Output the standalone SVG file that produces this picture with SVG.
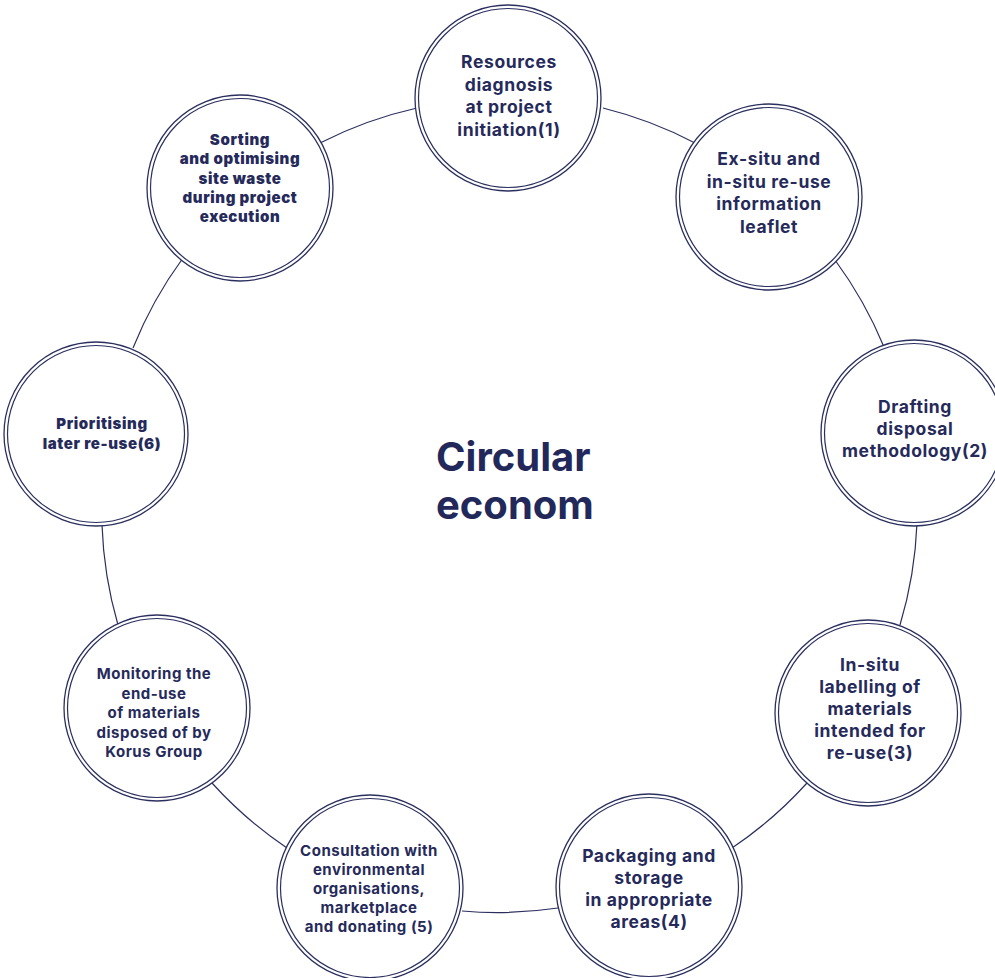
<svg xmlns="http://www.w3.org/2000/svg" width="995" height="978" viewBox="0 0 995 978">
<style>
.bg{fill:#ffffff}
.con{fill:none;stroke:#2b2f5e;stroke-width:1.2}
.outer{fill:#ffffff;stroke:#2b2f5e;stroke-width:1.3}
.inner{fill:none;stroke:#2b2f5e;stroke-width:1.2}
.t{font-family:Inter,"Liberation Sans",sans-serif;font-weight:700;font-size:17.5px;letter-spacing:0.6px;fill:#252a5a;text-anchor:middle}
.s{font-size:15px;letter-spacing:0.5px}
.h{font-weight:900;font-size:15px;letter-spacing:0.6px}
.title{font-family:Inter,"Liberation Sans",sans-serif;font-weight:700;font-size:40px;fill:#23285a}
</style>
<rect class="bg" x="0" y="0" width="995" height="978"/>
<g id="connectors">
<path class="con" d="M603 108 A410 410 0 0 1 695 143"/>
<path class="con" d="M835 260 A410 410 0 0 1 884 347"/>
<path class="con" d="M917 523 A410 410 0 0 1 900 625"/>
<path class="con" d="M807 783 A410 410 0 0 1 732 848"/>
<path class="con" d="M558 908 A410 410 0 0 1 462 911"/>
<path class="con" d="M287 848 A410 410 0 0 1 212 783"/>
<path class="con" d="M118 625 A410 410 0 0 1 102 525"/>
<path class="con" d="M133 348 A410 410 0 0 1 183 258"/>
<path class="con" d="M320 143 A410 410 0 0 1 417 108"/>
</g>
<g id="center-title">
<text class="title" x="436" y="471">Circular</text>
<text class="title" x="436" y="519">econom</text>
</g>
<g id="node1">
<circle class="outer" cx="508" cy="98" r="93"/>
<circle class="inner" cx="508" cy="98" r="89.5"/>
<text class="t" x="509" y="68">Resources</text>
<text class="t" x="509" y="90.5">diagnosis</text>
<text class="t" x="509" y="113">at project</text>
<text class="t" x="509" y="135.5">initiation(1)</text>
</g>
<g id="node2">
<circle class="outer" cx="769" cy="197" r="93"/>
<circle class="inner" cx="769" cy="197" r="89.5"/>
<text class="t" x="769" y="165">Ex-situ and</text>
<text class="t" x="769" y="187.5">in-situ re-use</text>
<text class="t" x="769" y="210">information</text>
<text class="t" x="769" y="232.5">leaflet</text>
</g>
<g id="node3">
<circle class="outer" cx="914" cy="433" r="93"/>
<circle class="inner" cx="914" cy="433" r="89.5"/>
<text class="t" x="915" y="413">Drafting</text>
<text class="t" x="915" y="435">disposal</text>
<text class="t" x="915" y="457">methodology(2)</text>
</g>
<g id="node4">
<circle class="outer" cx="868" cy="713" r="93"/>
<circle class="inner" cx="868" cy="713" r="89.5"/>
<text class="t" x="870" y="671">In-situ</text>
<text class="t" x="870" y="693">labelling of</text>
<text class="t" x="870" y="715">materials</text>
<text class="t" x="870" y="737">intended for</text>
<text class="t" x="870" y="759">re-use(3)</text>
</g>
<g id="node5">
<circle class="outer" cx="649" cy="887" r="93"/>
<circle class="inner" cx="649" cy="887" r="89.5"/>
<text class="t" x="649" y="862">Packaging and</text>
<text class="t" x="649" y="884">storage</text>
<text class="t" x="649" y="906">in appropriate</text>
<text class="t" x="649" y="928">areas(4)</text>
</g>
<g id="node6">
<circle class="outer" cx="370" cy="888" r="93"/>
<circle class="inner" cx="370" cy="888" r="89.5"/>
<text class="t s" x="369" y="856">Consultation with</text>
<text class="t s" x="369" y="875">environmental</text>
<text class="t s" x="369" y="894">organisations,</text>
<text class="t s" x="369" y="913">marketplace</text>
<text class="t s" x="369" y="932">and donating (5)</text>
</g>
<g id="node7">
<circle class="outer" cx="157" cy="708" r="93"/>
<circle class="inner" cx="157" cy="708" r="89.5"/>
<text class="t s" x="154" y="679">Monitoring the</text>
<text class="t s" x="154" y="698.5">end-use</text>
<text class="t s" x="154" y="718">of materials</text>
<text class="t s" x="154" y="737.5">disposed of by</text>
<text class="t s" x="154" y="757">Korus Group</text>
</g>
<g id="node8">
<circle class="outer" cx="96" cy="434" r="92"/>
<circle class="inner" cx="96" cy="434" r="88.5"/>
<text class="t h" x="102" y="429">Prioritising</text>
<text class="t h" x="102" y="449">later re-use(6)</text>
</g>
<g id="node9">
<circle class="outer" cx="240" cy="188" r="93"/>
<circle class="inner" cx="240" cy="188" r="89.5"/>
<text class="t h" x="240" y="145">Sorting</text>
<text class="t h" x="240" y="164">and optimising</text>
<text class="t h" x="240" y="183.5">site waste</text>
<text class="t h" x="240" y="203">during project</text>
<text class="t h" x="240" y="222">execution</text>
</g>
</svg>
